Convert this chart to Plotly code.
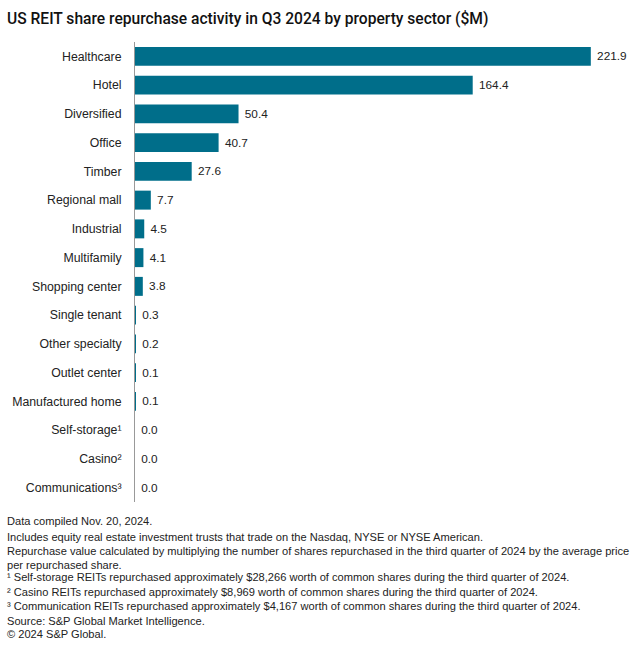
import plotly.graph_objects as go

categories = ["Healthcare", "Hotel", "Diversified", "Office", "Timber", "Regional mall",
              "Industrial", "Multifamily", "Shopping center", "Single tenant", "Other specialty",
              "Outlet center", "Manufactured home", "Self-storage¹", "Casino²", "Communications³"]
values = [221.9, 164.4, 50.4, 40.7, 27.6, 7.7, 4.5, 4.1, 3.8, 0.3, 0.2, 0.1, 0.1, 0.0, 0.0, 0.0]
labels = [f"\u00a0{v:.1f}" for v in values]

title = "US REIT share repurchase activity in Q3 2024 by property sector ($M)"
notes = [
    "Data compiled Nov. 20, 2024.",
    "Includes equity real estate investment trusts that trade on the Nasdaq, NYSE or NYSE American.",
    "Repurchase value calculated by multiplying the number of shares repurchased in the third quarter of 2024 by the average price<br>per repurchased share.",
    "¹ Self-storage REITs repurchased approximately $28,266 worth of common shares during the third quarter of 2024.",
    "² Casino REITs repurchased approximately $8,969 worth of common shares during the third quarter of 2024.",
    "³ Communication REITs repurchased approximately $4,167 worth of common shares during the third quarter of 2024.",
    "Source: S&P Global Market Intelligence.",
    "© 2024 S&P Global.",
]
note_y = [521, 537, 558, 577, 592, 606, 621, 634]

FONT = "Liberation Sans"
TFONT = "Roboto"
fig = go.Figure(go.Bar(
    x=values, y=categories, orientation="h",
    marker=dict(color="#006E8A", line=dict(width=0)),
    text=labels, textposition="outside", cliponaxis=False,
    textfont=dict(family=FONT, size=11.8, color="#222222"),
    width=0.66,
))

W, H = 640, 655
top, bottom = 42, 502
L, R = 130, 12
PW = W - L - R
fig.update_layout(
    width=W, height=H,
    margin=dict(l=L, r=R, t=top, b=H - bottom, pad=0),
    paper_bgcolor="white", plot_bgcolor="white",
    showlegend=False,
    font=dict(family=FONT, size=12, color="#222222"),
    xaxis=dict(range=[0, 240], visible=False, showgrid=False, zeroline=False),
    yaxis=dict(autorange=False, range=[15.5, -0.5], showgrid=False, zeroline=False,
               showline=True, linecolor="#999999", linewidth=1,
               ticks="", ticklabelstandoff=10,
               tickfont=dict(family=FONT, size=12.3, color="#222222")),
)

fig.add_annotation(text=title, xref="paper", yref="paper", x=-(L + 1) / PW, xanchor="left",
                   y=1 + (top - 19.5) / (bottom - top), yanchor="middle", showarrow=False,
                   font=dict(family=TFONT, size=15.6, weight=500, color="#111111"))

for t, yy in zip(notes, note_y):
    fig.add_annotation(text=t, xref="paper", yref="paper", x=-(L + 1) / PW, xanchor="left",
                       y=(bottom - yy) / (bottom - top), yanchor="middle", showarrow=False,
                       align="left", font=dict(family=FONT, size=11.1, color="#222222"))

fig.write_html("out.html", config={"displayModeBar": False},
               post_script="document.body.style.margin='0';document.body.style.overflow='hidden';")
